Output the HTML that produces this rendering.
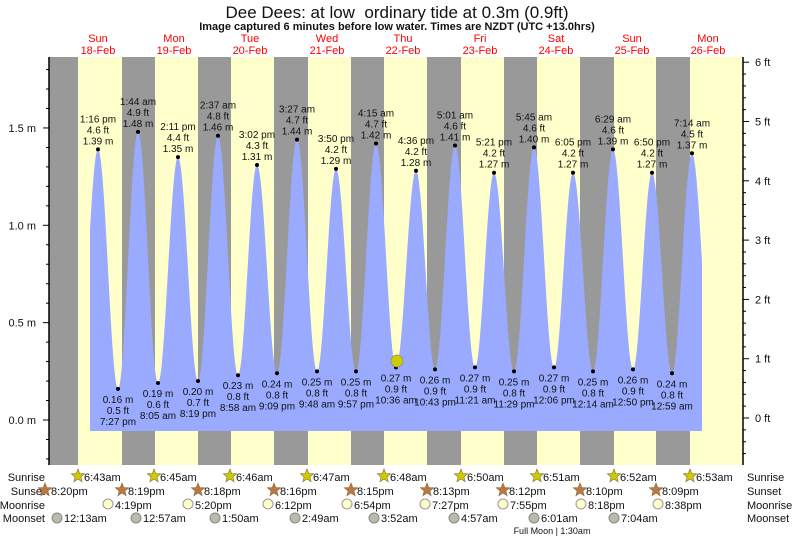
<!DOCTYPE html>
<html><head><meta charset="utf-8"><style>
html,body{margin:0;padding:0;background:#fff}
svg{display:block;font-family:"Liberation Sans",Arial,sans-serif}
</style></head><body>
<svg id="s" width="793" height="539" viewBox="0 0 793 539" xmlns="http://www.w3.org/2000/svg">
<text x="397" y="18" font-size="17" text-anchor="middle" fill="#111">Dee Dees: at low &#160;ordinary tide at 0.3m (0.9ft)</text>
<text x="397" y="30" font-size="11" font-weight="bold" text-anchor="middle" fill="#111">Image captured 6 minutes before low water. Times are NZDT (UTC +13.0hrs)</text>
<g id="g"></g>
</svg>
<script>
const NS="http://www.w3.org/2000/svg",g=document.getElementById('g');
function el(t,a,txt){const e=document.createElementNS(NS,t);for(const k in a)e.setAttribute(k,a[k]);if(txt!==undefined)e.textContent=txt;g.appendChild(e);return e;}
const X0=49,X1=743,Y0=57,Y1=465;
const Y=h=>420-194.7*h;
el('rect',{x:X0,y:Y0,width:X1-X0,height:Y1-Y0,fill:'#ffffcc'});
[[49,78],[122,155],[198,231],[274,308],[351,384],[427,461],[504,537],[580,614],[656,690]].forEach(b=>el('rect',{x:b[0],y:Y0,width:b[1]-b[0],height:Y1-Y0,fill:'#999'}));
const days=[['Sun','18-Feb',98],['Mon','19-Feb',174],['Tue','20-Feb',250],['Wed','21-Feb',327],['Thu','22-Feb',403],['Fri','23-Feb',480],['Sat','24-Feb',556],['Sun','25-Feb',632],['Mon','26-Feb',708]];
days.forEach(d=>{el('text',{x:d[2],y:42,'font-size':11,'text-anchor':'middle',fill:'#f00'},d[0]);el('text',{x:d[2],y:54,'font-size':11,'text-anchor':'middle',fill:'#f00'},d[1]);});
const ext=[[78,0.20],[98,1.39,'1:16 pm','4.6 ft'],[118,0.16,'7:27 pm','0.5 ft'],[138,1.48,'1:44 am','4.9 ft'],[158,0.19,'8:05 am','0.6 ft'],[178,1.35,'2:11 pm','4.4 ft'],[198,0.20,'8:19 pm','0.7 ft'],[218,1.46,'2:37 am','4.8 ft'],[238,0.23,'8:58 am','0.8 ft'],[257,1.31,'3:02 pm','4.3 ft'],[277,0.24,'9:09 pm','0.8 ft'],[297,1.44,'3:27 am','4.7 ft'],[317,0.25,'9:48 am','0.8 ft'],[336,1.29,'3:50 pm','4.2 ft'],[356,0.25,'9:57 pm','0.8 ft'],[376,1.42,'4:15 am','4.7 ft'],[396,0.27,'10:36 am','0.9 ft'],[416,1.28,'4:36 pm','4.2 ft'],[435,0.26,'10:43 pm','0.9 ft'],[455,1.41,'5:01 am','4.6 ft'],[475,0.27,'11:21 am','0.9 ft'],[494,1.27,'5:21 pm','4.2 ft'],[514,0.25,'11:29 pm','0.8 ft'],[534,1.40,'5:45 am','4.6 ft'],[554,0.27,'12:06 pm','0.9 ft'],[573,1.27,'6:05 pm','4.2 ft'],[593,0.25,'12:14 am','0.8 ft'],[613,1.39,'6:29 am','4.6 ft'],[633,0.26,'12:50 pm','0.9 ft'],[652,1.27,'6:50 pm','4.2 ft'],[672,0.24,'12:59 am','0.8 ft'],[692,1.37,'7:14 am','4.5 ft'],[712,0.25]];
function h(x){for(let i=0;i<ext.length-1;i++){const a=ext[i],b=ext[i+1];if(x>=a[0]&&x<=b[0]){const f=(x-a[0])/(b[0]-a[0]);return a[1]+(b[1]-a[1])*(1-Math.cos(Math.PI*f))/2;}}return 0.5;}
let d='M90,431';for(let x=90;x<=702;x+=0.5)d+=' L'+x+','+Y(h(x)).toFixed(1);d+=' L702,431 Z';
el('path',{d:d,fill:'#99aaff'});
ext.forEach((e,i)=>{if(!e[2])return;const y=Y(e[1]);el('circle',{cx:e[0],cy:y,r:2,fill:'#000'});
 const hi=e[1]>1;const fs=10;
 if(hi){el('text',{x:e[0],y:y-27,'font-size':fs,'text-anchor':'middle',fill:'#111'},e[2]);el('text',{x:e[0],y:y-16,'font-size':fs,'text-anchor':'middle',fill:'#111'},e[3]);el('text',{x:e[0],y:y-5,'font-size':fs,'text-anchor':'middle',fill:'#111'},e[1].toFixed(2)+' m');}
 else{el('text',{x:e[0],y:y+14,'font-size':fs,'text-anchor':'middle',fill:'#111'},e[1].toFixed(2)+' m');el('text',{x:e[0],y:y+25,'font-size':fs,'text-anchor':'middle',fill:'#111'},e[3]);el('text',{x:e[0],y:y+36,'font-size':fs,'text-anchor':'middle',fill:'#111'},e[2]);}
});
el('circle',{cx:397,cy:361,r:6,fill:'#cccc00',stroke:'#888','stroke-width':0.7});
el('line',{x1:X0,y1:Y0,x2:X0,y2:Y1,stroke:'#000','stroke-width':1.5});
el('line',{x1:X1,y1:Y0,x2:X1,y2:Y1,stroke:'#000','stroke-width':1.5});
for(let k=-2;k<=18;k++){const y=Y(k/10);if(y<Y0||y>Y1)continue;const maj=k%5==0;el('line',{x1:X0-(maj?6:3),y1:y,x2:X0,y2:y,stroke:'#000'});if(maj&&k>=0&&k<=15)el('text',{x:36,y:y+4,'font-size':11,'text-anchor':'end',fill:'#111'},(k/10).toFixed(1)+' m');}
for(let k=-3;k<=30;k++){const y=418-59.3*k/5;if(y<Y0||y>Y1)continue;const maj=k%5==0;el('line',{x1:X1,y1:y,x2:X1+(maj?6:3),y2:y,stroke:'#000'});if(maj)el('text',{x:755,y:y+4,'font-size':11,fill:'#111'},(k/5)+' ft');}
function star(cx,cy,fill){let p='';for(let i=0;i<10;i++){const r=i%2?3:7,a=-Math.PI/2+i*Math.PI/5;p+=(cx+r*Math.cos(a)).toFixed(1)+','+(cy+r*Math.sin(a)).toFixed(1)+' ';}el('polygon',{points:p,fill:fill,stroke:'#886633','stroke-width':0.6});}
const rows=[['Sunrise',477],['Sunset',491],['Moonrise',505],['Moonset',518]];
rows.forEach(r=>{el('text',{x:45,y:r[1]+4,'font-size':11,'text-anchor':'end',fill:'#111'},r[0]);el('text',{x:747,y:r[1]+4,'font-size':11,fill:'#111'},r[0]);});
const sr=['6:43am','6:45am','6:46am','6:47am','6:48am','6:50am','6:51am','6:52am','6:53am'],srx=[78,154,230,307,384,461,537,614,690];
srx.forEach((x,i)=>{star(x,476,'#cccc00');el('text',{x:x+6,y:481,'font-size':11,fill:'#111'},sr[i]);});
const ss=['8:20pm','8:19pm','8:18pm','8:16pm','8:15pm','8:13pm','8:12pm','8:10pm','8:09pm'],ssx=[45,122,198,274,351,427,503,580,656];
ssx.forEach((x,i)=>{star(x,490,'#bb7744');el('text',{x:x+6,y:495,'font-size':11,fill:'#111'},ss[i]);});
const mr=['4:19pm','5:20pm','6:12pm','6:54pm','7:27pm','7:55pm','8:18pm','8:38pm'],mrx=[108,188,268,347,425,503,581,658];
mrx.forEach((x,i)=>{el('circle',{cx:x,cy:504,r:5,fill:'#ffffcc',stroke:'#999'});el('text',{x:x+7,y:509,'font-size':11,fill:'#111'},mr[i]);});
const ms=['12:13am','12:57am','1:50am','2:49am','3:52am','4:57am','6:01am','7:04am'],msx=[57,136,215,295,374,454,534,614];
msx.forEach((x,i)=>{el('circle',{cx:x,cy:518,r:5,fill:'#bbbbaa',stroke:'#888'});el('text',{x:x+7,y:522,'font-size':11,fill:'#111'},ms[i]);});
el('text',{x:552,y:534,'font-size':9,'text-anchor':'middle',fill:'#111'},'Full Moon | 1:30am');
</script>
</body></html>
